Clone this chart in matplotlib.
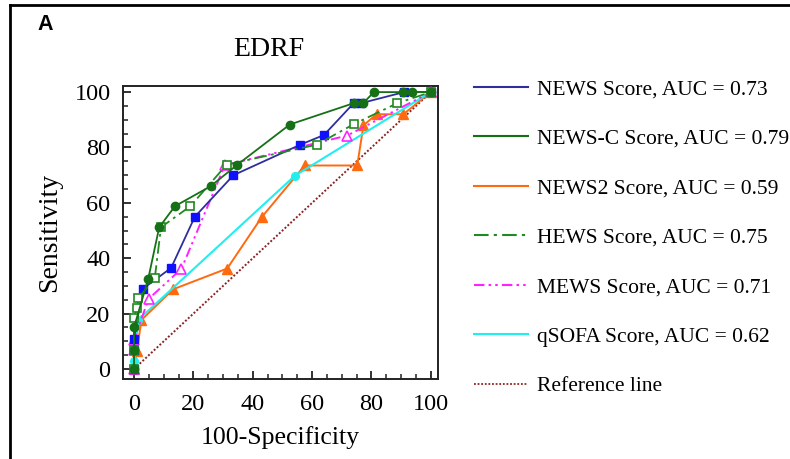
import matplotlib
matplotlib.use("Agg")
import matplotlib.pyplot as plt
from matplotlib.lines import Line2D
from matplotlib.ticker import MultipleLocator

plt.rcParams['font.family'] = ['Liberation Serif', 'DejaVu Serif']

# ---- data (100-Specificity, Sensitivity) ----
news_x = [0, 0, 0, 3, 12.5, 20.5, 33.5, 56, 64, 74, 76.5, 91, 100]
news_y = [0, 7, 11, 29, 36.5, 55, 70, 81, 84.5, 96, 96, 100, 100]

newsc_x = [0, 0, 0, 4.8, 8.5, 13.8, 25.8, 34.6, 52.5, 74, 77.2, 80.8, 90.7, 93.5, 100]
newsc_y = [0, 7, 15, 32.6, 51.2, 58.8, 66, 73.6, 88.3, 96, 96, 100, 100, 100, 100]

news2_x = [0, 1, 2.5, 13.2, 31.4, 43, 57.5, 75.2, 77.3, 81.7, 90.7, 100]
news2_y = [0, 6.5, 17.7, 28.8, 36.3, 54.8, 73.5, 73.5, 88, 92, 92, 100]

hews_x = [0, 0, 0, 1, 1.5, 7, 9.1, 19, 31.2, 61.5, 74, 88.7, 100]
hews_y = [0, 7, 18.5, 22, 25.5, 32.8, 51.2, 58.8, 73.8, 81, 88.4, 96, 100]

mews_x = [0, 0, 0, 4.9, 16, 30.6, 71.8, 100]
mews_y = [0, 7, 10.5, 25.3, 36.2, 73.6, 84.3, 100]

qsofa_x = [0, 0, 1.5, 54.2, 100]
qsofa_y = [0, 3, 17.8, 69.8, 100]

ref_x = [0, 100]
ref_y = [0, 100]

labels = ["NEWS Score, AUC = 0.73", "NEWS-C Score, AUC = 0.79",
          "NEWS2 Score, AUC = 0.59", "HEWS Score, AUC = 0.75",
          "MEWS Score, AUC = 0.71", "qSOFA Score, AUC = 0.62",
          "Reference line"]
x_ticks = [0, 20, 40, 60, 80, 100]
y_ticks = [0, 20, 40, 60, 80, 100]

fig = plt.figure(figsize=(7.9, 4.59), dpi=100)
ax = fig.add_axes([0.1557, 0.1743, 0.3987, 0.6383])

c_news_line = '#2e2e9e'
c_news_mk = '#1010ff'
c_newsc = '#167016'
c_news2 = '#ff6a10'
c_hews = '#1f8a1f'
c_mews = '#ff22ff'
c_qsofa = '#22eeee'
c_ref = '#8b2323'

hews_ls = (0, (7, 2.5, 1.5, 2.5))
mews_ls = (0, (5, 2, 1.2, 2, 1.2, 2))

ax.plot(ref_x, ref_y, color=c_ref, lw=1.4, ls=(0, (1, 1)), zorder=1)
ax.plot(news2_x, news2_y, color=c_news2, lw=1.4, marker='^', ms=6.5,
        mfc=c_news2, mec=c_news2, zorder=2)
ax.plot(qsofa_x, qsofa_y, color=c_qsofa, lw=1.5, marker='o', ms=5.5,
        mfc=c_qsofa, mec=c_qsofa, zorder=3)
ax.plot(mews_x, mews_y, color=c_mews, lw=1.4, ls=mews_ls, marker='^', ms=6.5,
        mfc='white', mec=c_mews, mew=1.2, zorder=4)
ax.plot(news_x, news_y, color=c_news_line, lw=1.3, marker='s', ms=6,
        mfc=c_news_mk, mec=c_news_mk, zorder=5)
ax.plot(hews_x, hews_y, color=c_hews, lw=1.3, ls=hews_ls, marker='s', ms=6,
        mfc='white', mec=c_hews, mew=1.2, zorder=6)
ax.plot(newsc_x, newsc_y, color=c_newsc, lw=1.3, marker='o', ms=6,
        mfc=c_newsc, mec=c_newsc, zorder=7)

ax.set_xlim(-3.7, 102.4)
ax.set_ylim(-3.6, 102.2)
ax.set_xticks(x_ticks)
ax.set_yticks(y_ticks)
ax.xaxis.set_minor_locator(MultipleLocator(5))
ax.yaxis.set_minor_locator(MultipleLocator(5))
ax.tick_params(which='major', direction='in', length=6, width=1.3,
               labelsize=17.5, color='#222222')
ax.tick_params(axis='x', which='major', pad=11)
ax.tick_params(axis='y', which='major', pad=9)
ax.tick_params(which='minor', direction='in', length=3.5, width=1.1,
               color='#222222')
for s in ax.spines.values():
    s.set_linewidth(1.4)
    s.set_color('#222222')

ax.set_xlabel("100-Specificity", fontsize=18.5, labelpad=8)
ax.set_ylabel("Sensitivity", fontsize=20, labelpad=9)
fig.text(269 / 790, 1 - 50 / 459, "EDRF", fontsize=20, ha='center',
         va='center')

handles = [
    Line2D([], [], color=c_news_line, lw=1.5),
    Line2D([], [], color=c_newsc, lw=1.5),
    Line2D([], [], color=c_news2, lw=1.5),
    Line2D([], [], color=c_hews, lw=1.5, ls=hews_ls),
    Line2D([], [], color=c_mews, lw=1.5, ls=mews_ls),
    Line2D([], [], color=c_qsofa, lw=1.5),
    Line2D([], [], color=c_ref, lw=1.3, ls=(0, (1, 1))),
]
fig.legend(handles, labels, loc='upper left',
           bbox_to_anchor=(474 / 790, 1 - 79.5 / 459),
           frameon=False, fontsize=15.5, handlelength=2.5,
           handletextpad=0.42, labelspacing=1.365, borderpad=0,
           borderaxespad=0)

fig.text(37 / 790, 1 - 25 / 459, "A", fontsize=15.5, fontweight='bold',
         family='Liberation Sans', va='center', ha='left')

# outer panel frame (left and top edges visible)
fig.add_artist(Line2D([10 / 790, 10 / 790], [0, 1 - 5 / 459],
                      transform=fig.transFigure, color='black', lw=2))
fig.add_artist(Line2D([10 / 790, 1], [1 - 5 / 459, 1 - 5 / 459],
                      transform=fig.transFigure, color='black', lw=2))

fig.savefig("out.png", dpi=100)
